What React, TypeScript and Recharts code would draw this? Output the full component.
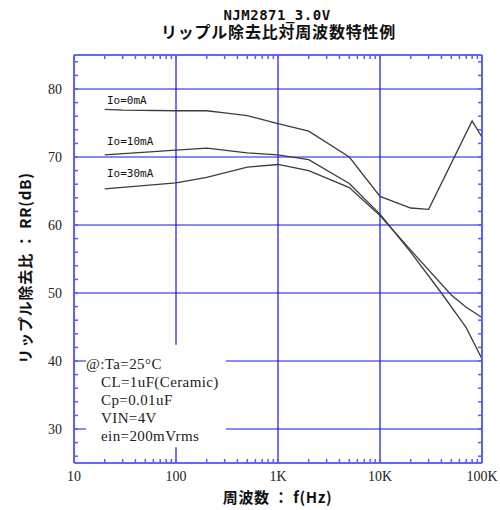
import React from 'react';
import { LineChart, Line, XAxis, YAxis, CartesianGrid, ReferenceArea } from 'recharts';

// ---- data ----
const freq0 = [20, 30, 100, 200, 300, 500, 1000, 2000, 5000, 10000, 20000, 30000, 80000, 100000];
const rr0 = [77.0, 76.9, 76.8, 76.8, 76.5, 76.1, 74.9, 73.8, 70.0, 64.2, 62.5, 62.3, 75.3, 72.9];

const freq10 = [20, 100, 200, 500, 1000, 2000, 5000, 10000, 20000, 40000, 70000, 100000];
const rr10 = [70.3, 71.0, 71.3, 70.6, 70.3, 69.6, 66.1, 61.6, 56.0, 50.0, 44.9, 40.3];

const freq30 = [20, 100, 200, 500, 1000, 2000, 5000, 10000, 20000, 50000, 70000, 100000];
const rr30 = [65.3, 66.2, 67.0, 68.5, 68.9, 68.0, 65.5, 61.4, 56.3, 49.7, 47.9, 46.4];

const seriesNames = ['Io=0mA', 'Io=10mA', 'Io=30mA'];

const xMajorTicks = [10, 100, 1000, 10000, 100000];
const xMajorLabels = ['10', '100', '1K', '10K', '100K'];
const xMinorTicks = [
  20, 30, 40, 50, 60, 70, 80, 90,
  200, 300, 400, 500, 600, 700, 800, 900,
  2000, 3000, 4000, 5000, 6000, 7000, 8000, 9000,
  20000, 30000, 40000, 50000, 60000, 70000, 80000, 90000,
];
const yMajorTicks = [30, 40, 50, 60, 70, 80];
const yMinorTicks = [26, 28, 32, 34, 36, 38, 42, 44, 46, 48, 52, 54, 56, 58, 62, 64, 66, 68, 72, 74, 76, 78, 82, 84];
const xAllTicks = [...xMajorTicks, ...xMinorTicks].sort((a, b) => a - b);
const yAllTicks = [...yMajorTicks, ...yMinorTicks].sort((a, b) => a - b);

const xDomain = [10, 100000];
const yDomain = [25, 85];

const titleLine1 = 'NJM2871_3.0V';
const titleLine2 = 'リップル除去比対周波数特性例';
const xTitle = '周波数 ： f(Hz)';
const yTitle = 'リップル除去比 ： RR(dB)';
const conditions = ['@:Ta=25°C', 'CL=1uF(Ceramic)', 'Cp=0.01uF', 'VIN=4V', 'ein=200mVrms'];

// white box behind the condition notes (data units)
const noteBoxX = [13.1, 309];
const noteBoxY = [27.3, 42.4];

const toPoints = (fs: number[], vs: number[]) => fs.map((f, i) => ({ f, rr: vs[i] }));
const data0 = toPoints(freq0, rr0);
const data10 = toPoints(freq10, rr10);
const data30 = toPoints(freq30, rr30);

const FRAME = '#5a5aff';
const GRID = '#1414f0';
const LINE = '#3c3c3c';

const fmtX = (v: number) => {
  const i = xMajorTicks.indexOf(v);
  return i >= 0 ? xMajorLabels[i] : '';
};
const fmtY = (v: number) => (yMajorTicks.indexOf(v) >= 0 ? String(v) : '');
const blank = () => '';

const tickFont = { fontFamily: 'Liberation Serif', fontSize: 14, fill: '#222' };
const frameLine = { stroke: FRAME, strokeWidth: 1.5 };

export default function App() {
  return (
    <div style={{ position: 'absolute', left: 0, top: 0, width: 500, height: 510, background: '#fff' }}>
      <LineChart
        width={500}
        height={510}
        margin={{ top: 54, right: 17, bottom: 17, left: 34 }}
      >
        {/* hidden axes that carry the major grid ticks */}
        <XAxis xAxisId="gridX" dataKey="f" type="number" scale="log" domain={xDomain} ticks={xMajorTicks} allowDataOverflow hide interval={0} />
        <YAxis yAxisId="gridY" type="number" domain={yDomain} ticks={yMajorTicks} allowDataOverflow hide interval={0} />
        <CartesianGrid stroke={GRID} strokeWidth={1.2} xAxisId="gridX" yAxisId="gridY" />

        {/* bottom axis: labels + inward minor ticks */}
        <XAxis
          xAxisId={0}
          dataKey="f"
          type="number"
          scale="log"
          domain={xDomain}
          ticks={xAllTicks}
          tickFormatter={fmtX}
          allowDataOverflow
          orientation="bottom"
          height={30}
          tickSize={-4}
          tickMargin={12}
          tickLine={frameLine}
          axisLine={frameLine}
          tick={tickFont}
          interval={0}
        />
        {/* left axis: labels + inward minor ticks */}
        <YAxis
          yAxisId={0}
          type="number"
          domain={yDomain}
          ticks={yAllTicks}
          tickFormatter={fmtY}
          allowDataOverflow
          orientation="left"
          width={40}
          tickSize={-4}
          tickMargin={16}
          tickLine={frameLine}
          axisLine={frameLine}
          tick={tickFont}
          interval={0}
        />
        {/* top and right: inward minor ticks only */}
        <XAxis
          xAxisId="top"
          dataKey="f"
          type="number"
          scale="log"
          domain={xDomain}
          ticks={xAllTicks}
          tickFormatter={blank}
          allowDataOverflow
          orientation="top"
          height={1}
          tickSize={-4}
          tickLine={frameLine}
          axisLine={frameLine}
          interval={0}
        />
        <YAxis
          yAxisId="right"
          type="number"
          domain={yDomain}
          ticks={yAllTicks}
          tickFormatter={blank}
          allowDataOverflow
          orientation="right"
          width={1}
          tickSize={-4}
          tickLine={frameLine}
          axisLine={frameLine}
          interval={0}
        />
        <ReferenceArea
          xAxisId={0}
          yAxisId={0}
          x1={noteBoxX[0]}
          x2={noteBoxX[1]}
          y1={noteBoxY[0]}
          y2={noteBoxY[1]}
          fill="#ffffff"
          fillOpacity={1}
          stroke="none"
        />
        <Line xAxisId={0} yAxisId={0} data={data0} dataKey="rr" name={seriesNames[0]} type="linear" stroke={LINE} strokeWidth={1.3} dot={false} isAnimationActive={false} />
        <Line xAxisId={0} yAxisId={0} data={data10} dataKey="rr" name={seriesNames[1]} type="linear" stroke={LINE} strokeWidth={1.3} dot={false} isAnimationActive={false} />
        <Line xAxisId={0} yAxisId={0} data={data30} dataKey="rr" name={seriesNames[2]} type="linear" stroke={LINE} strokeWidth={1.3} dot={false} isAnimationActive={false} />
      </LineChart>
      <svg
        width={500}
        height={510}
        style={{ position: 'absolute', left: 0, top: 0, pointerEvents: 'none' }}
      >
        <text x={277} y={20} textAnchor="middle" fontFamily="DejaVu Sans Mono" fontWeight="bold" fontSize={14} letterSpacing={0.5} fill="#111">{titleLine1}</text>
        <text x={278.5} y={38} textAnchor="middle" fontFamily="Noto Sans CJK JP" fontWeight="bold" fontSize={16} letterSpacing={0.8} fill="#111">{titleLine2}</text>
        <text x={277.5} y={503} textAnchor="middle" fontFamily="Noto Sans CJK JP" fontWeight="bold" fontSize={15} letterSpacing={0.6} fill="#111">{xTitle}</text>
        <text transform="rotate(-90)" x={-268} y={31} textAnchor="middle" fontFamily="Noto Sans CJK JP" fontWeight="bold" fontSize={15} letterSpacing={0.8} fill="#111">{yTitle}</text>
        <text x={107} y={104} fontFamily="DejaVu Sans Mono" fontSize={11} fill="#111">{seriesNames[0]}</text>
        <text x={107} y={145} fontFamily="DejaVu Sans Mono" fontSize={11} fill="#111">{seriesNames[1]}</text>
        <text x={107} y={177} fontFamily="DejaVu Sans Mono" fontSize={11} fill="#111">{seriesNames[2]}</text>
        {conditions.map((c, i) => (
          <text key={c} x={i === 0 ? 86 : 101} y={369 + i * 18} fontFamily="Liberation Serif" fontSize={15} letterSpacing={0.4} fill="#222">{c}</text>
        ))}
      </svg>
    </div>
  );
}
